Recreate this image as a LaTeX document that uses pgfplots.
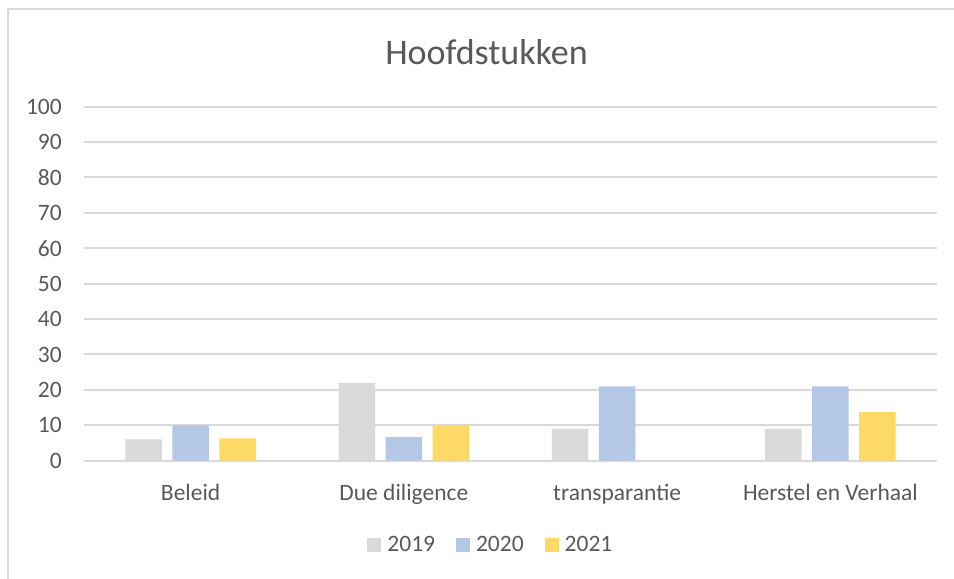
\documentclass[border=0pt]{standalone}
\usepackage{fontspec}
\setmainfont{Carlito}
\usepackage{pgfplots}
\pgfplotsset{compat=1.18}

\definecolor{txt}{HTML}{595959}
\definecolor{gridc}{HTML}{D9D9D9}
\definecolor{c19}{HTML}{D9D9D9}
\definecolor{c20}{HTML}{B4C7E7}
\definecolor{c21}{HTML}{FFD966}

\newcommand{\lab}{\fontsize{23.5bp}{28bp}\selectfont}

\begin{document}
\begin{tikzpicture}
\useasboundingbox (0,0) rectangle (954bp,579bp);
% chart frame, cut off at right and bottom
\draw[gridc, line width=1.8bp] (8bp,-20bp) -- (8bp,570bp) -- (970bp,570bp);
\node[anchor=base, text=txt, font=\fontsize{36bp}{43bp}\selectfont] at (486.5bp,514bp) {Hoofdstukken};
\begin{axis}[
  at={(84bp,118.3bp)}, anchor=south west,
  scale only axis,
  width=853bp, height=354bp,
  ybar=10.3bp, bar width=36.7bp,
  xmin=-0.5, xmax=3.5,
  ymin=0, ymax=100,
  ytick={0,10,...,100},
  xtick={0,1,2,3},
  xticklabels={Beleid, Due diligence, transparantie, Herstel en Verhaal},
  axis line style={draw=none},
  major tick length=0pt,
  ymajorgrids,
  grid style={gridc, line width=2bp},
  tick label style={text=txt, font=\lab},
  /pgf/number format/assume math mode=true,
  yticklabel style={anchor=east, inner sep=0pt, xshift=-22bp},
  xticklabel style={anchor=base, inner sep=0pt, yshift=-39.5bp},
  legend columns=3,
  legend style={at={(0.477,-0.238)}, anchor=center, draw=none, fill=none,
    inner sep=0pt, font=\lab, text=txt,
    /tikz/every odd column/.append style={column sep=4bp},
    /tikz/every even column/.append style={column sep=19bp}},
  legend image code/.code={\fill[#1] (0bp,-7bp) rectangle (14bp,7bp);},
]
\addplot[fill=c19, draw=none] coordinates {(0,6) (1,22) (2,9) (3,9)};
\addplot[fill=c20, draw=none] coordinates {(0,10) (1,6.7) (2,21) (3,21)};
\addplot[fill=c21, draw=none] coordinates {(0,6.3) (1,10) (3,13.7)};
\legend{2019,2020,2021}
\end{axis}
\end{tikzpicture}
\end{document}
